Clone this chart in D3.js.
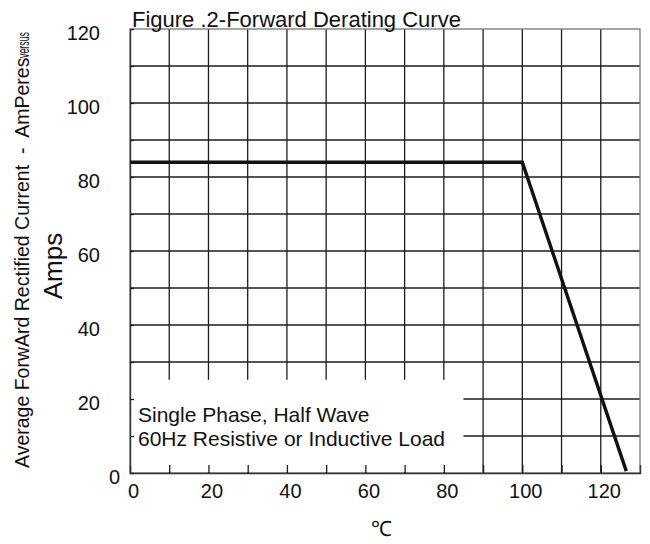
<!DOCTYPE html>
<html>
<head>
<meta charset="utf-8">
<script src="https://cdn.jsdelivr.net/npm/d3@7"></script>
<style>
  html, body { margin: 0; padding: 0; background: #fff; }
  svg { display: block; }
  text { font-family: "Liberation Sans", Arial, sans-serif; fill: #111; }
</style>
</head>
<body>
<svg id="chart" width="650" height="544"></svg>
<script>
// temperature (degC) vs average forward rectified current (A)
const tempC = [0, 100, 126.5];
const currentA = [84, 84, 0.5];

const xTickLabels = [0, 20, 40, 60, 80, 100, 120];
const yTickLabels = [0, 20, 40, 60, 80, 100, 120];
const xGrid = [10, 20, 30, 40, 50, 60, 70, 80, 90, 100, 110, 120];
const yGrid = [10, 20, 30, 40, 50, 60, 70, 80, 90, 100, 110];

const title = "Figure .2-Forward Derating Curve";
const yLabel1 = "Average ForwArd Rectified Current  -  AmPeres";
const yLabel1b = "versus";
const yLabel2 = "Amps";
const noteLines = ["Single Phase, Half Wave", "60Hz Resistive or Inductive Load"];
const xUnit = "\u2103";

const svg = d3.select("#chart"),
    x = d3.scaleLinear().domain([0, 130]).range([130, 640]),
    y = d3.scaleLinear().domain([0, 120]).range([473, 29]);

const ink = "#1c1c1c";

// grid
svg.append("g").selectAll("line")
    .data(xGrid).enter().append("line")
    .attr("x1", d => x(d)).attr("x2", d => x(d))
    .attr("y1", y(120)).attr("y2", y(0))
    .attr("stroke", ink).attr("stroke-width", 1.3);
svg.append("g").selectAll("line")
    .data(yGrid).enter().append("line")
    .attr("x1", x(0)).attr("x2", x(130))
    .attr("y1", d => y(d)).attr("y2", d => y(d))
    .attr("stroke", ink).attr("stroke-width", 1.3);

// frame (top/right lighter)
svg.append("rect")
    .attr("x", x(0)).attr("y", y(120))
    .attr("width", x(130) - x(0)).attr("height", y(0) - y(120))
    .attr("fill", "none").attr("stroke", "#777").attr("stroke-width", 1.3);

// white panel behind the note
svg.append("rect")
    .attr("x", x(0) + 1).attr("y", y(25.2))
    .attr("width", x(85) - x(0) - 1).attr("height", y(0) - y(25.2) - 1)
    .attr("fill", "#fff");

// small inward ticks on the left / bottom axes
svg.append("g")
    .attr("transform", "translate(" + x(0) + ",0)")
    .call(d3.axisLeft(y).tickValues(yGrid).tickSize(-4).tickFormat(""))
    .call(g => g.selectAll("line").attr("stroke", ink).attr("stroke-width", 1.3))
    .call(g => g.select(".domain").attr("stroke", "#333").attr("stroke-width", 1.4));
svg.append("g")
    .attr("transform", "translate(0," + y(0) + ")")
    .call(d3.axisBottom(x).tickValues(xGrid).tickSize(-8).tickFormat(""))
    .call(g => g.selectAll("line").attr("stroke", ink).attr("stroke-width", 1.3))
    .call(g => g.select(".domain").attr("stroke", "#333").attr("stroke-width", 1.4));

// tick labels
svg.append("g")
    .attr("transform", "translate(" + x(0) + ",0)")
    .call(d3.axisLeft(y).tickValues(yTickLabels).tickSize(0).tickPadding(30))
    .call(g => g.select(".domain").remove())
    .call(g => g.selectAll("text")
        .attr("font-size", 20).attr("font-family", "Liberation Sans, Arial, sans-serif")
        .attr("fill", "#111").attr("dy", "0.5em")
        .attr("x", d => d === 0 ? -10 : -30));
svg.append("g")
    .attr("transform", "translate(0," + y(0) + ")")
    .call(d3.axisBottom(x).tickValues(xTickLabels).tickSize(0).tickPadding(11))
    .call(g => g.select(".domain").remove())
    .call(g => g.selectAll("text")
        .attr("font-size", 20).attr("font-family", "Liberation Sans, Arial, sans-serif")
        .attr("fill", "#111").attr("dx", 3));

// derating curve
svg.append("path")
    .datum(tempC.map((t, i) => [t, currentA[i]]))
    .attr("fill", "none")
    .attr("stroke", "#111")
    .attr("stroke-width", 3.4)
    .attr("stroke-linejoin", "miter")
    .attr("d", d3.line().x(d => x(d[0])).y(d => y(d[1])));

// title
svg.append("text")
    .attr("x", 132).attr("y", 27)
    .attr("font-size", 22)
    .text(title);

// note
svg.append("g").selectAll("text")
    .data(noteLines).enter().append("text")
    .attr("x", 138).attr("y", (d, i) => 422 + i * 24)
    .attr("font-size", 21)
    .text(d => d);

// y label
svg.append("text")
    .attr("transform", "translate(28.5,468) rotate(-90)")
    .attr("font-size", 19.5)
    .style("white-space", "pre")
    .text(yLabel1);
svg.append("text")
    .attr("transform", "translate(28.5,58) rotate(-90)")
    .attr("font-family", "Liberation Serif, 'Times New Roman', serif")
    .attr("font-size", 17)
    .attr("textLength", 26)
    .attr("lengthAdjust", "spacingAndGlyphs")
    .text(yLabel1b);
svg.append("text")
    .attr("transform", "translate(62,266) rotate(-90)")
    .attr("text-anchor", "middle")
    .attr("font-size", 26)
    .text(yLabel2);

// x unit
svg.append("text")
    .attr("x", 381).attr("y", 536)
    .attr("text-anchor", "middle")
    .attr("font-family", "'DejaVu Serif', 'Noto Sans CJK SC', serif")
    .attr("font-size", 21)
    .text(xUnit);
</script>
</body>
</html>
